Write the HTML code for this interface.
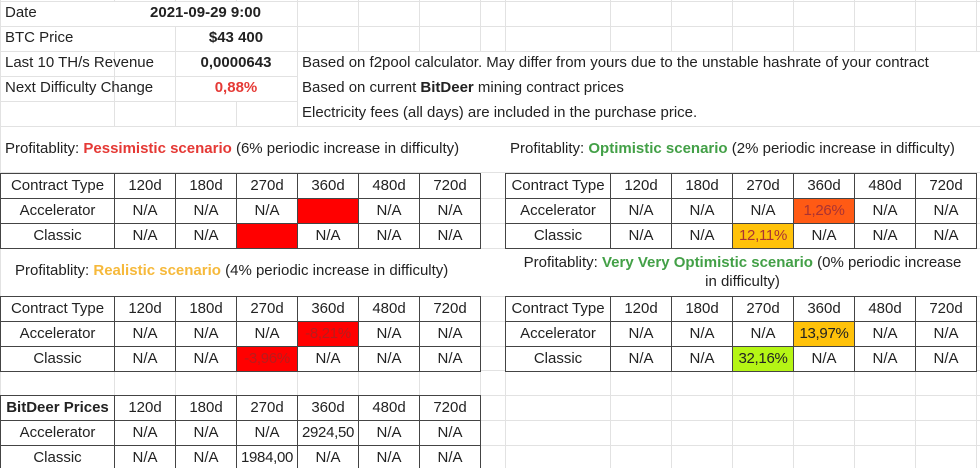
<!DOCTYPE html>
<html><head><meta charset="utf-8">
<style>
html,body{margin:0;padding:0;background:#fff;}
#sheet{position:relative;width:980px;height:468px;overflow:hidden;font-family:"Liberation Sans",Arial,sans-serif;font-size:15px;color:#222;}
.c{position:absolute;box-sizing:border-box;white-space:nowrap;line-height:24px;overflow:visible;}
.g{position:absolute;background:#e2e2e2;}
.t{position:absolute;white-space:nowrap;font-size:15px;}
</style></head>
<body>
<div id="sheet"></div>
<script>
const cols=["120d","180d","270d","360d","480d","720d"];
const rowsTypes=["Accelerator","Classic"];
const pessVals=[["N/A","N/A","N/A","","N/A","N/A"],["N/A","N/A","","N/A","N/A","N/A"]];
const pessFill=[["","","","#ff0000","",""],["","","#ff0000","","",""]];
const realVals=[["N/A","N/A","N/A","-8,21%","N/A","N/A"],["N/A","N/A","-3,96%","N/A","N/A","N/A"]];
const realFill=[["","","","#ff0000","",""],["","","#ff0000","","",""]];
const optVals=[["N/A","N/A","N/A","1,26%","N/A","N/A"],["N/A","N/A","12,11%","N/A","N/A","N/A"]];
const optFill=[["","","","#ff5a14","",""],["","","#ffc20a","","",""]];
const vvoVals=[["N/A","N/A","N/A","13,97%","N/A","N/A"],["N/A","N/A","32,16%","N/A","N/A","N/A"]];
const vvoFill=[["","","","#ffc20a","",""],["","","#b5f515","","",""]];
const priceVals=[["N/A","N/A","N/A","2924,50","N/A","N/A"],["N/A","N/A","1984,00","N/A","N/A","N/A"]];

const S=document.getElementById('sheet');
// background grid
const vx=[0,114,175,236,297,358,419,480,505,610,671,732,793,854,915,976];
const hy=[1,26,51,76,101,126,172,198,223,248,296,321,346,370,395,420,445];
for(const x of vx){const d=document.createElement('div');d.className='g';d.style.left=x+'px';d.style.top='0px';d.style.width='1px';d.style.height='468px';


S.appendChild(d);}
for(const y of hy){const d=document.createElement('div');d.className='g';d.style.left='0px';d.style.top=y+'px';d.style.width='980px';d.style.height='1px';


S.appendChild(d);}

function txt(x,y,html,name,extra){const d=document.createElement('div');d.className='t';d.style.left=x+'px';d.style.top=y+'px';d.innerHTML=html;if(extra)Object.assign(d.style,extra);


S.appendChild(d);return d;}

// header info
const hdr=[["Date","2021-09-29 9:00","#222",114,297],["BTC Price","$43 400","#222",175,297],["Last 10 TH/s Revenue","0,0000643","#222",175,297],["Next Difficulty Change","0,88%","#e53935",175,297]];
hdr.forEach((h,i)=>{
 const y=hy[i]+3;
 const bg=document.createElement('div');bg.className='c';bg.style.left=(h[3]+1)+'px';bg.style.top=(hy[i]+1)+'px';bg.style.width=(h[4]-h[3]-1)+'px';bg.style.height='24px';bg.style.background='#fff';
 
 
 S.appendChild(bg);
 if(i<2){const b2=document.createElement('div');b2.className='c';b2.style.left='1px';b2.style.top=(hy[i]+1)+'px';b2.style.width='173px';b2.style.height='24px';b2.style.background='#fff';
 
 
 S.appendChild(b2);}
 txt(5,y,h[0],'info-label');
 const v=txt(h[3],y,h[1],'info-value',{width:(h[4]-h[3])+'px',textAlign:'center',fontWeight:'bold',color:h[2]});
});
// cover grid behind right text notes
const cov=document.createElement('div');cov.className='c';cov.style.left='298px';cov.style.top='52px';cov.style.width='682px';cov.style.height='74px';cov.style.background='#fff';


S.appendChild(cov);
const cov2=document.createElement('div');cov2.className='c';cov2.style.left='1px';cov2.style.top='127px';cov2.style.width='979px';cov2.style.height='45px';cov2.style.background='#fff';


S.appendChild(cov2);
const cov3=document.createElement('div');cov3.className='c';cov3.style.left='1px';cov3.style.top='249px';cov3.style.width='979px';cov3.style.height='47px';cov3.style.background='#fff';


S.appendChild(cov3);
txt(302,54,"Based on f2pool calculator. May differ from yours due to the unstable hashrate of your contract",'note-f2pool');
txt(302,79,"Based on current <b>BitDeer</b> mining contract prices",'note-bitdeer');
txt(302,104,"Electricity fees (all days) are included in the purchase price.",'note-electricity');

txt(5,140,'Profitablity: <b style="color:#e53935">Pessimistic scenario</b> (6% periodic increase in difficulty)','pessimistic-title');
txt(510,140,'Profitablity: <b style="color:#43a047">Optimistic scenario</b> (2% periodic increase in difficulty)','optimistic-title');
txt(15,262,'Profitablity: <b style="color:#f6b93b">Realistic scenario</b> (4% periodic increase in difficulty)','realistic-title');
txt(505,253,'Profitablity: <b style="color:#43a047">Very Very Optimistic scenario</b> (0% periodic increase<br>in difficulty)','very-optimistic-title',{width:'475px',textAlign:'center',lineHeight:'19px'});

function table(x0,y0,firstW,head,vals,fills,name,bold,textCol){
 const wrap=document.createElement('div');wrap.className='c';wrap.style.left=x0+'px';wrap.style.top=y0+'px';
 wrap.style.width=(firstW+61*6+1)+'px';wrap.style.height='76px';wrap.style.border='1.5px solid #333';wrap.style.background='#fff';
 
 
 S.appendChild(wrap);
 const rows=[[head].concat(cols)].concat(rowsTypes.map((r,i)=>[r].concat(vals[i])));
 rows.forEach((r,ri)=>{
  r.forEach((v,ci)=>{
   const c=document.createElement('div');c.className='c';
   const x=ci===0?0:firstW+(ci-1)*61;const w=ci===0?firstW:61;
   c.style.left=(x0+x)+'px';c.style.top=(y0+ri*25)+'px';c.style.width=(w+1)+'px';c.style.height='26px';
   c.style.border='1px solid #444';c.style.textAlign='center';c.style.lineHeight='24px';
   const f=(ri>0&&ci>0)?fills[ri-1][ci-1]:'';
   if(f)c.style.background=f;
   if(ri===0&&ci===0&&bold)c.style.fontWeight='bold';
   if(f&&textCol)c.style.color=textCol;
   if(ci>0&&/[0-9],/.test(v))c.style.letterSpacing='-0.3px';
   c.textContent=v;
   
   
   S.appendChild(c);
  });
 });
}
const none=[["","","","","",""],["","","","","",""]];
table(0,173,114,"Contract Type",pessVals,pessFill,'pessimistic-table');
table(0,296,114,"Contract Type",realVals,realFill,'realistic-table',false,'#b71c1c');
table(0,395,114,"BitDeer Prices",priceVals,none,'bitdeer-prices-table',true);
table(505,173,105,"Contract Type",optVals,optFill,'optimistic-table',false,'#a33');
table(505,296,105,"Contract Type",vvoVals,vvoFill,'very-optimistic-table');
</script>
</body></html>
